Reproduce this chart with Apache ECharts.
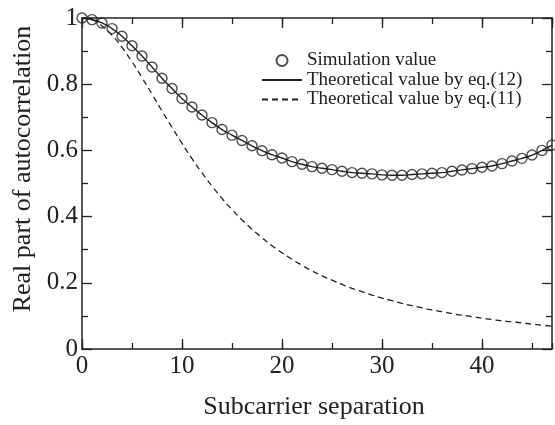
<!DOCTYPE html>
<html><head><meta charset="utf-8">
<script src="https://cdn.jsdelivr.net/npm/echarts@6/dist/echarts.min.js"></script>
<style>html,body{margin:0;padding:0;background:#fff}#c{width:555px;height:425px}</style>
</head><body><div id="c"></div>
<script>
// Subcarrier separation (x)
const separation = [0,1,2,3,4,5,6,7,8,9,10,11,12,13,14,15,16,17,18,19,20,21,22,23,24,25,26,27,28,29,30,31,32,33,34,35,36,37,38,39,40,41,42,43,44,45,46,47];
// Simulation value (circles)
const simulation = [1.000,0.995,0.985,0.968,0.945,0.916,0.885,0.852,0.818,0.787,0.757,0.731,0.707,0.684,0.663,0.646,0.630,0.614,0.599,0.587,0.577,0.566,0.558,0.551,0.546,0.542,0.537,0.533,0.531,0.529,0.526,0.525,0.525,0.527,0.529,0.531,0.533,0.537,0.541,0.545,0.549,0.553,0.560,0.568,0.576,0.586,0.600,0.616];
// Theoretical value by eq.(12) (solid)
const eq12 = [1.000,0.995,0.985,0.968,0.945,0.916,0.885,0.852,0.818,0.787,0.757,0.731,0.707,0.684,0.663,0.646,0.630,0.614,0.599,0.587,0.577,0.566,0.558,0.551,0.546,0.542,0.537,0.533,0.531,0.529,0.526,0.525,0.525,0.527,0.529,0.531,0.533,0.537,0.541,0.545,0.549,0.553,0.560,0.568,0.576,0.586,0.600,0.616];
// Theoretical value by eq.(11) (dashed)
const eq11 = [1.000,0.995,0.976,0.948,0.911,0.868,0.820,0.770,0.719,0.670,0.621,0.575,0.532,0.492,0.455,0.421,0.390,0.362,0.336,0.312,0.291,0.271,0.253,0.236,0.221,0.208,0.195,0.183,0.173,0.163,0.154,0.146,0.138,0.131,0.124,0.118,0.113,0.107,0.102,0.098,0.093,0.089,0.085,0.082,0.079,0.075,0.072,0.069];

const seriesNames = ['Simulation value','Theoretical value by eq.(12)','Theoretical value by eq.(11)'];
const xTitle = 'Subcarrier separation';
const yTitle = 'Real part of autocorrelation';

const FONT = "'Liberation Serif','Times New Roman',serif";
const INK = '#222';

function xAx(pos, interval, tickLen, labels, line){
  return {
    type:'value', position:pos, min:0, max:47, interval:interval,
    axisLine:{show:line, onZero:false, lineStyle:{color:INK, width:1.5}},
    axisTick:{show:true, inside:true, length:tickLen, lineStyle:{color:INK, width:1.3}},
    axisLabel:{show:labels, showMaxLabel:false, margin:5, fontFamily:FONT, fontSize:25, color:INK},
    splitLine:{show:false},
    name: labels ? xTitle : '', nameLocation:'middle', nameGap:45,
    nameTextStyle:{fontFamily:FONT, fontSize:26, color:INK, padding:[0,6,0,0]}
  };
}
function yAx(pos, labels){
  return {
    type:'value', position:pos, min:0, max:1, interval:0.2,
    axisLine:{show:true, onZero:false, lineStyle:{color:INK, width:1.5}},
    axisTick:{show:true, inside:true, length:10, lineStyle:{color:INK, width:1.3}},
    minorTick:{show:true, splitNumber:2, length:6, lineStyle:{color:INK, width:1.3}},
    axisLabel:{show:labels, margin:4, fontFamily:FONT, fontSize:25, color:INK},
    splitLine:{show:false}, minorSplitLine:{show:false}
  };
}

const chart = echarts.init(document.getElementById('c'), null, {renderer:'canvas'});
chart.setOption({
  backgroundColor:'#fff',
  animation:false,
  grid:{left:82, right:3, top:18, bottom:71, containLabel:false},
  xAxis:[ xAx('bottom',10,10,true,true), xAx('bottom',5,6,false,false), xAx('top',10,10,false,true), xAx('top',5,6,false,false) ],
  yAxis:[ yAx('left',true), yAx('right',false) ],
  legend:{
    orient:'vertical', left:261, top:51, padding:0, itemGap:0.5,
    itemWidth:40, itemHeight:11,
    textStyle:{fontFamily:FONT, fontSize:19, color:INK, lineHeight:18},
    data:[
      {name:seriesNames[0]},
      {name:seriesNames[1], itemStyle:{opacity:0}},
      {name:seriesNames[2], itemStyle:{opacity:0}}
    ]
  },
  graphic:[{
    type:'text', x:23, y:169, rotation:Math.PI/2,
    style:{text:yTitle, font:"26px 'Liberation Serif','Times New Roman',serif", fill:INK, align:'center', verticalAlign:'middle'}
  }],
  series:[
    {
      name:seriesNames[0], type:'scatter', xAxisIndex:0, yAxisIndex:0,
      symbol:'circle', symbolSize:10, z:3,
      itemStyle:{color:'rgba(255,255,255,0)', borderColor:INK, borderWidth:1.4},
      data: separation.map((x,i)=>[x, simulation[i]])
    },
    {
      name:seriesNames[1], type:'line', xAxisIndex:0, yAxisIndex:0,
      smooth:true, symbol:'none', showSymbol:false, z:2,
      lineStyle:{color:INK, width:1.4, type:'solid'}, itemStyle:{color:INK},
      data: separation.map((x,i)=>[x, eq12[i]])
    },
    {
      name:seriesNames[2], type:'line', xAxisIndex:0, yAxisIndex:0,
      smooth:true, symbol:'none', showSymbol:false, z:2,
      lineStyle:{color:INK, width:1.3, type:[6,4]}, itemStyle:{color:INK},
      data: separation.map((x,i)=>[x, eq11[i]])
    }
  ]
});
</script></body></html>
